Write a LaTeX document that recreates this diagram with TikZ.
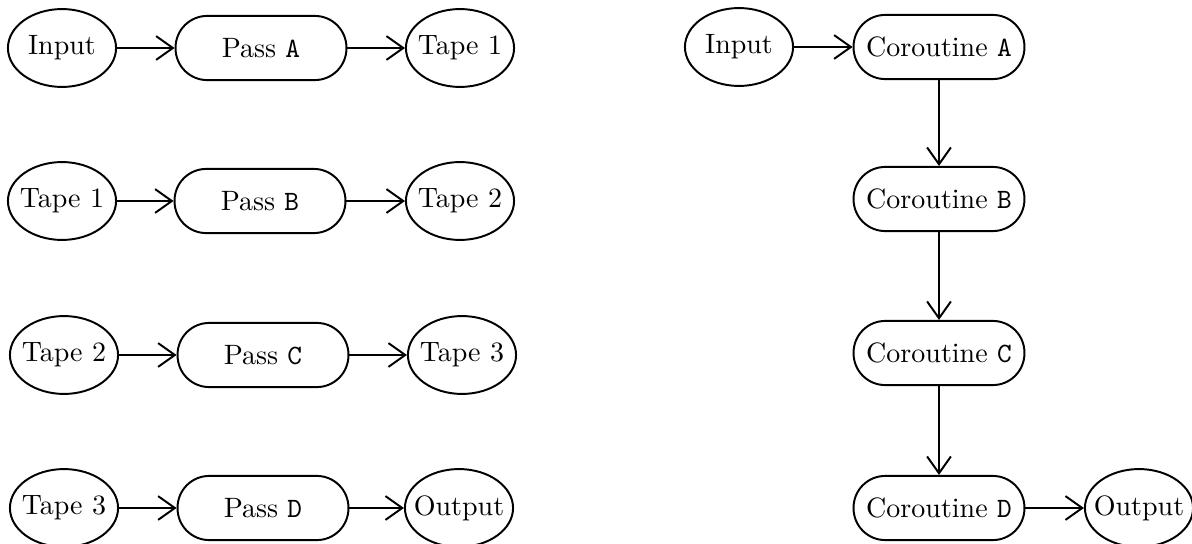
\documentclass[tikz,border=0pt]{standalone}
\usetikzlibrary{arrows.meta,shapes.geometric}
\begin{document}
\begin{tikzpicture}[x=0.357pt,y=-0.357pt,
  ell/.style={draw,ellipse,line width=0.7pt,inner xsep=-1.7pt,inner ysep=0pt,minimum width=38.6pt,minimum height=27.8pt,font=\fontsize{10}{12}\selectfont},
  tight/.style={inner xsep=-3pt},
  pbox/.style={draw,rectangle,rounded corners=11.3pt,line width=0.7pt,inner sep=0pt,minimum width=61pt,minimum height=22.9pt,font=\fontsize{10}{12}\selectfont},
  arr/.style={line width=0.7pt,-{Straight Barb[length=6pt,width=8.5pt,line width=0.7pt]}}]
\useasboundingbox (0,0) rectangle (1192,544);
% left column
\node[ell] (in1) at (62,48) {Input};
\node[pbox] (pa) at (261,48) {Pass \texttt{A}};
\node[ell] (t1a) at (460,48) {Tape 1};
\node[ell] (t1b) at (62,201) {Tape 1};
\node[pbox] (pb) at (260,201) {Pass \texttt{B}};
\node[ell] (t2a) at (460,201) {Tape 2};
\node[ell] (t2b) at (64,355) {Tape 2};
\node[pbox] (pc) at (263,355) {Pass \texttt{C}};
\node[ell] (t3a) at (462,355) {Tape 3};
\node[ell] (t3b) at (64,508) {Tape 3};
\node[pbox] (pd) at (263,508) {Pass \texttt{D}};
\node[ell,tight] (out1) at (459,508) {Output};
\draw[arr] (in1) -- (pa);
\draw[arr] (pa) -- (t1a);
\draw[arr] (t1b) -- (pb);
\draw[arr] (pb) -- (t2a);
\draw[arr] (t2b) -- (pc);
\draw[arr] (pc) -- (t3a);
\draw[arr] (t3b) -- (pd);
\draw[arr] (pd) -- (out1);
% right column
\node[ell] (in2) at (739,47) {Input};
\node[pbox] (ca) at (939,47) {Coroutine \texttt{A}};
\node[pbox] (cb) at (939,199) {Coroutine \texttt{B}};
\node[pbox] (cc) at (939,353) {Coroutine \texttt{C}};
\node[pbox] (cd) at (939,508) {Coroutine \texttt{D}};
\node[ell,tight] (out2) at (1139,508) {Output};
\draw[arr] (in2) -- (ca);
\draw[arr] (ca) -- (cb);
\draw[arr] (cb) -- (cc);
\draw[arr] (cc) -- (cd);
\draw[arr] (cd) -- (out2);
\end{tikzpicture}
\end{document}
